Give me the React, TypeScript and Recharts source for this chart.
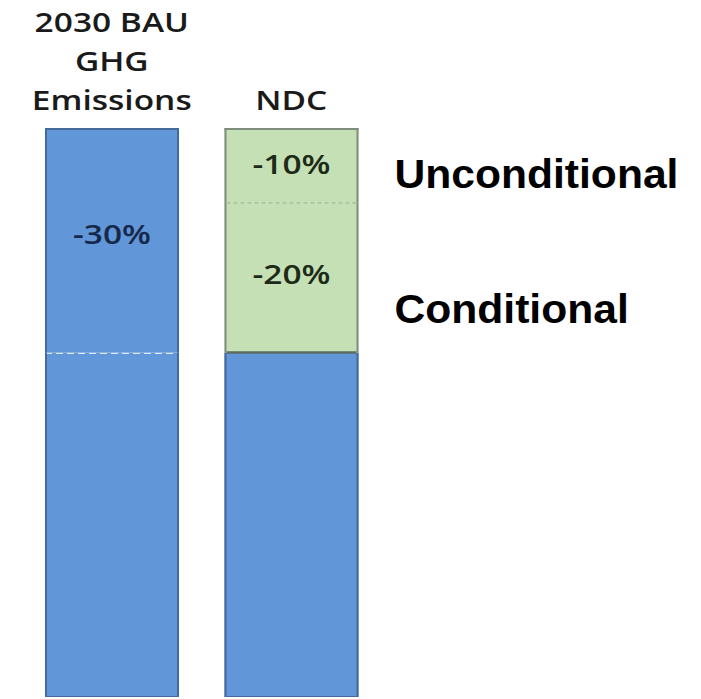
import React from 'react';
import { BarChart, Bar, XAxis, YAxis, LabelList } from 'recharts';

// Emissions as a share of the 2030 business-as-usual level (BAU = 100)
const categories = ['2030 BAU GHG Emissions', 'NDC'];
const categoryLines = [['2030 BAU', 'GHG', 'Emissions'], ['NDC']];
const remaining = [70, 70];
// BAU: full cut; NDC: conditional part of the target
const lowerCut = [30, 20];
// NDC: unconditional part of the target
const upperCut = [0, 10];
const lowerNotes = ['', 'Conditional'];
const upperNotes = ['', 'Unconditional'];

const data = categories.map((category, i) => ({
  category,
  remaining: remaining[i],
  lowerCut: lowerCut[i],
  upperCut: upperCut[i],
  lowerNote: lowerNotes[i],
  upperNote: upperNotes[i],
}));

const BLUE = '#6196d8';
const BLUE_EDGE = '#44699b';
const GREEN = '#c5e0b4';
const GREEN_EDGE = '#7f8e7c';
const BOUNDARY = '#5d6b63';
const FONT = "'Open Sans', sans-serif";
const STRETCH = 1.24;

type Edge = { color: string; width: number; dash?: string } | null;
type SegStyle = { fill: string; side: Edge; top: Edge; bottom: Edge };

const blueEdge: Edge = { color: BLUE_EDGE, width: 2 };
const greenEdge: Edge = { color: GREEN_EDGE, width: 2 };

const segmentStyle = (key: string, i: number): SegStyle => {
  const row = data[i];
  if (key === 'remaining') {
    return {
      fill: BLUE,
      side: blueEdge,
      top: i === 0 ? { color: '#dce9f8', width: 1.5, dash: '7 4' } : null,
      bottom: blueEdge,
    };
  }
  if (key === 'lowerCut') {
    const green = i === 1;
    return {
      fill: green ? GREEN : BLUE,
      side: green ? greenEdge : blueEdge,
      top: row.upperCut > 0 ? null : green ? greenEdge : blueEdge,
      bottom: green ? { color: BOUNDARY, width: 2.5 } : null,
    };
  }
  return {
    fill: GREEN,
    side: greenEdge,
    top: greenEdge,
    bottom: { color: '#a2b59a', width: 1.2, dash: '4 3' },
  };
};

const makeShape = (key: string) => (props: any) => {
  const { x, y, width, height, index } = props;
  if (!height || height <= 0) return <g />;
  const s = segmentStyle(key, index);
  const line = (e: Edge, x1: number, y1: number, x2: number, y2: number, k: string) =>
    e ? (
      <line key={k} x1={x1} y1={y1} x2={x2} y2={y2} stroke={e.color} strokeWidth={e.width} strokeDasharray={e.dash} />
    ) : null;
  return (
    <g>
      <rect x={x} y={y} width={width} height={height} fill={s.fill} />
      {line(s.bottom, x + 2, y + height, x + width - 2, y + height, 'b')}
      {line(s.top, x, y + (s.top ? s.top.width / 2 : 0), x + width, y + (s.top ? s.top.width / 2 : 0), 't')}
      {line(s.side, x + 1, y, x + 1, y + height, 'l')}
      {line(s.side, x + width - 1, y, x + width - 1, y + height, 'r')}
    </g>
  );
};

const box = (props: any) => {
  const vb = props.viewBox || {};
  return {
    x: props.x ?? vb.x,
    y: props.y ?? vb.y,
    width: props.width ?? vb.width,
    height: props.height ?? vb.height,
  };
};

const percentLabel = (color: string) => (props: any) => {
  const { value } = props;
  if (!value) return null;
  const { x, y, width, height } = box(props);
  const cx = x + width / 2;
  const cy = y + height * 0.47;
  return (
    <g transform={`translate(${cx},${cy}) scale(${STRETCH},1)`}>
      <text x={0} y={0} textAnchor="middle" dominantBaseline="central" fontFamily={FONT} fontWeight={600} fontSize={27} fill={color}>
        {`-${value}%`}
      </text>
    </g>
  );
};

const noteLabel = (props: any) => {
  const { value } = props;
  if (!value) return null;
  const { x, y, width, height } = box(props);
  return (
    <g transform={`translate(${x + width + 36},${y + height * 0.8}) scale(1.065,1)`}>
      <text
        x={0}
        y={0}
        fontFamily="'Liberation Sans', Arial, sans-serif"
        fontWeight="bold"
        fontSize={40}
        fill="#000"
      >
        {value}
      </text>
    </g>
  );
};

const CategoryTick = (props: any) => {
  const { x, y, index } = props;
  const lines = categoryLines[index] || [];
  const n = lines.length;
  return (
    <g>
      {lines.map((t, k) => (
        <g key={t} transform={`translate(${x},${y - (n - 1 - k) * 39}) scale(${STRETCH},1)`}>
          <text x={0} y={0} textAnchor="middle" fontFamily={FONT} fontWeight={600} fontSize={27} fill="#1a1a1a">
            {t}
          </text>
        </g>
      ))}
    </g>
  );
};

export default function App() {
  return (
    <div style={{ position: 'absolute', left: 0, top: 0, width: 701, height: 699, background: '#fff' }}>
      <BarChart
        width={701}
        height={699}
        data={data}
        margin={{ top: 0, right: 320, bottom: 2, left: 22 }}
        barSize={134}
      >
        <XAxis
          dataKey="category"
          orientation="top"
          height={128}
          axisLine={false}
          tickLine={false}
          tickSize={0}
          tickMargin={18}
          interval={0}
          tick={<CategoryTick />}
        />
        <YAxis type="number" hide domain={[24, 100]} allowDataOverflow />
        <Bar dataKey="remaining" stackId="a" isAnimationActive={false} shape={makeShape('remaining')} />
        <Bar dataKey="lowerCut" stackId="a" isAnimationActive={false} shape={makeShape('lowerCut')}>
          <LabelList dataKey="lowerCut" content={(p: any) => percentLabel(p.index === 0 ? '#17294a' : '#1d2a18')(p)} />
          <LabelList dataKey="lowerNote" content={noteLabel} />
        </Bar>
        <Bar dataKey="upperCut" stackId="a" isAnimationActive={false} shape={makeShape('upperCut')}>
          <LabelList dataKey="upperCut" content={percentLabel('#1d2a18')} />
          <LabelList dataKey="upperNote" content={noteLabel} />
        </Bar>
      </BarChart>
    </div>
  );
}
